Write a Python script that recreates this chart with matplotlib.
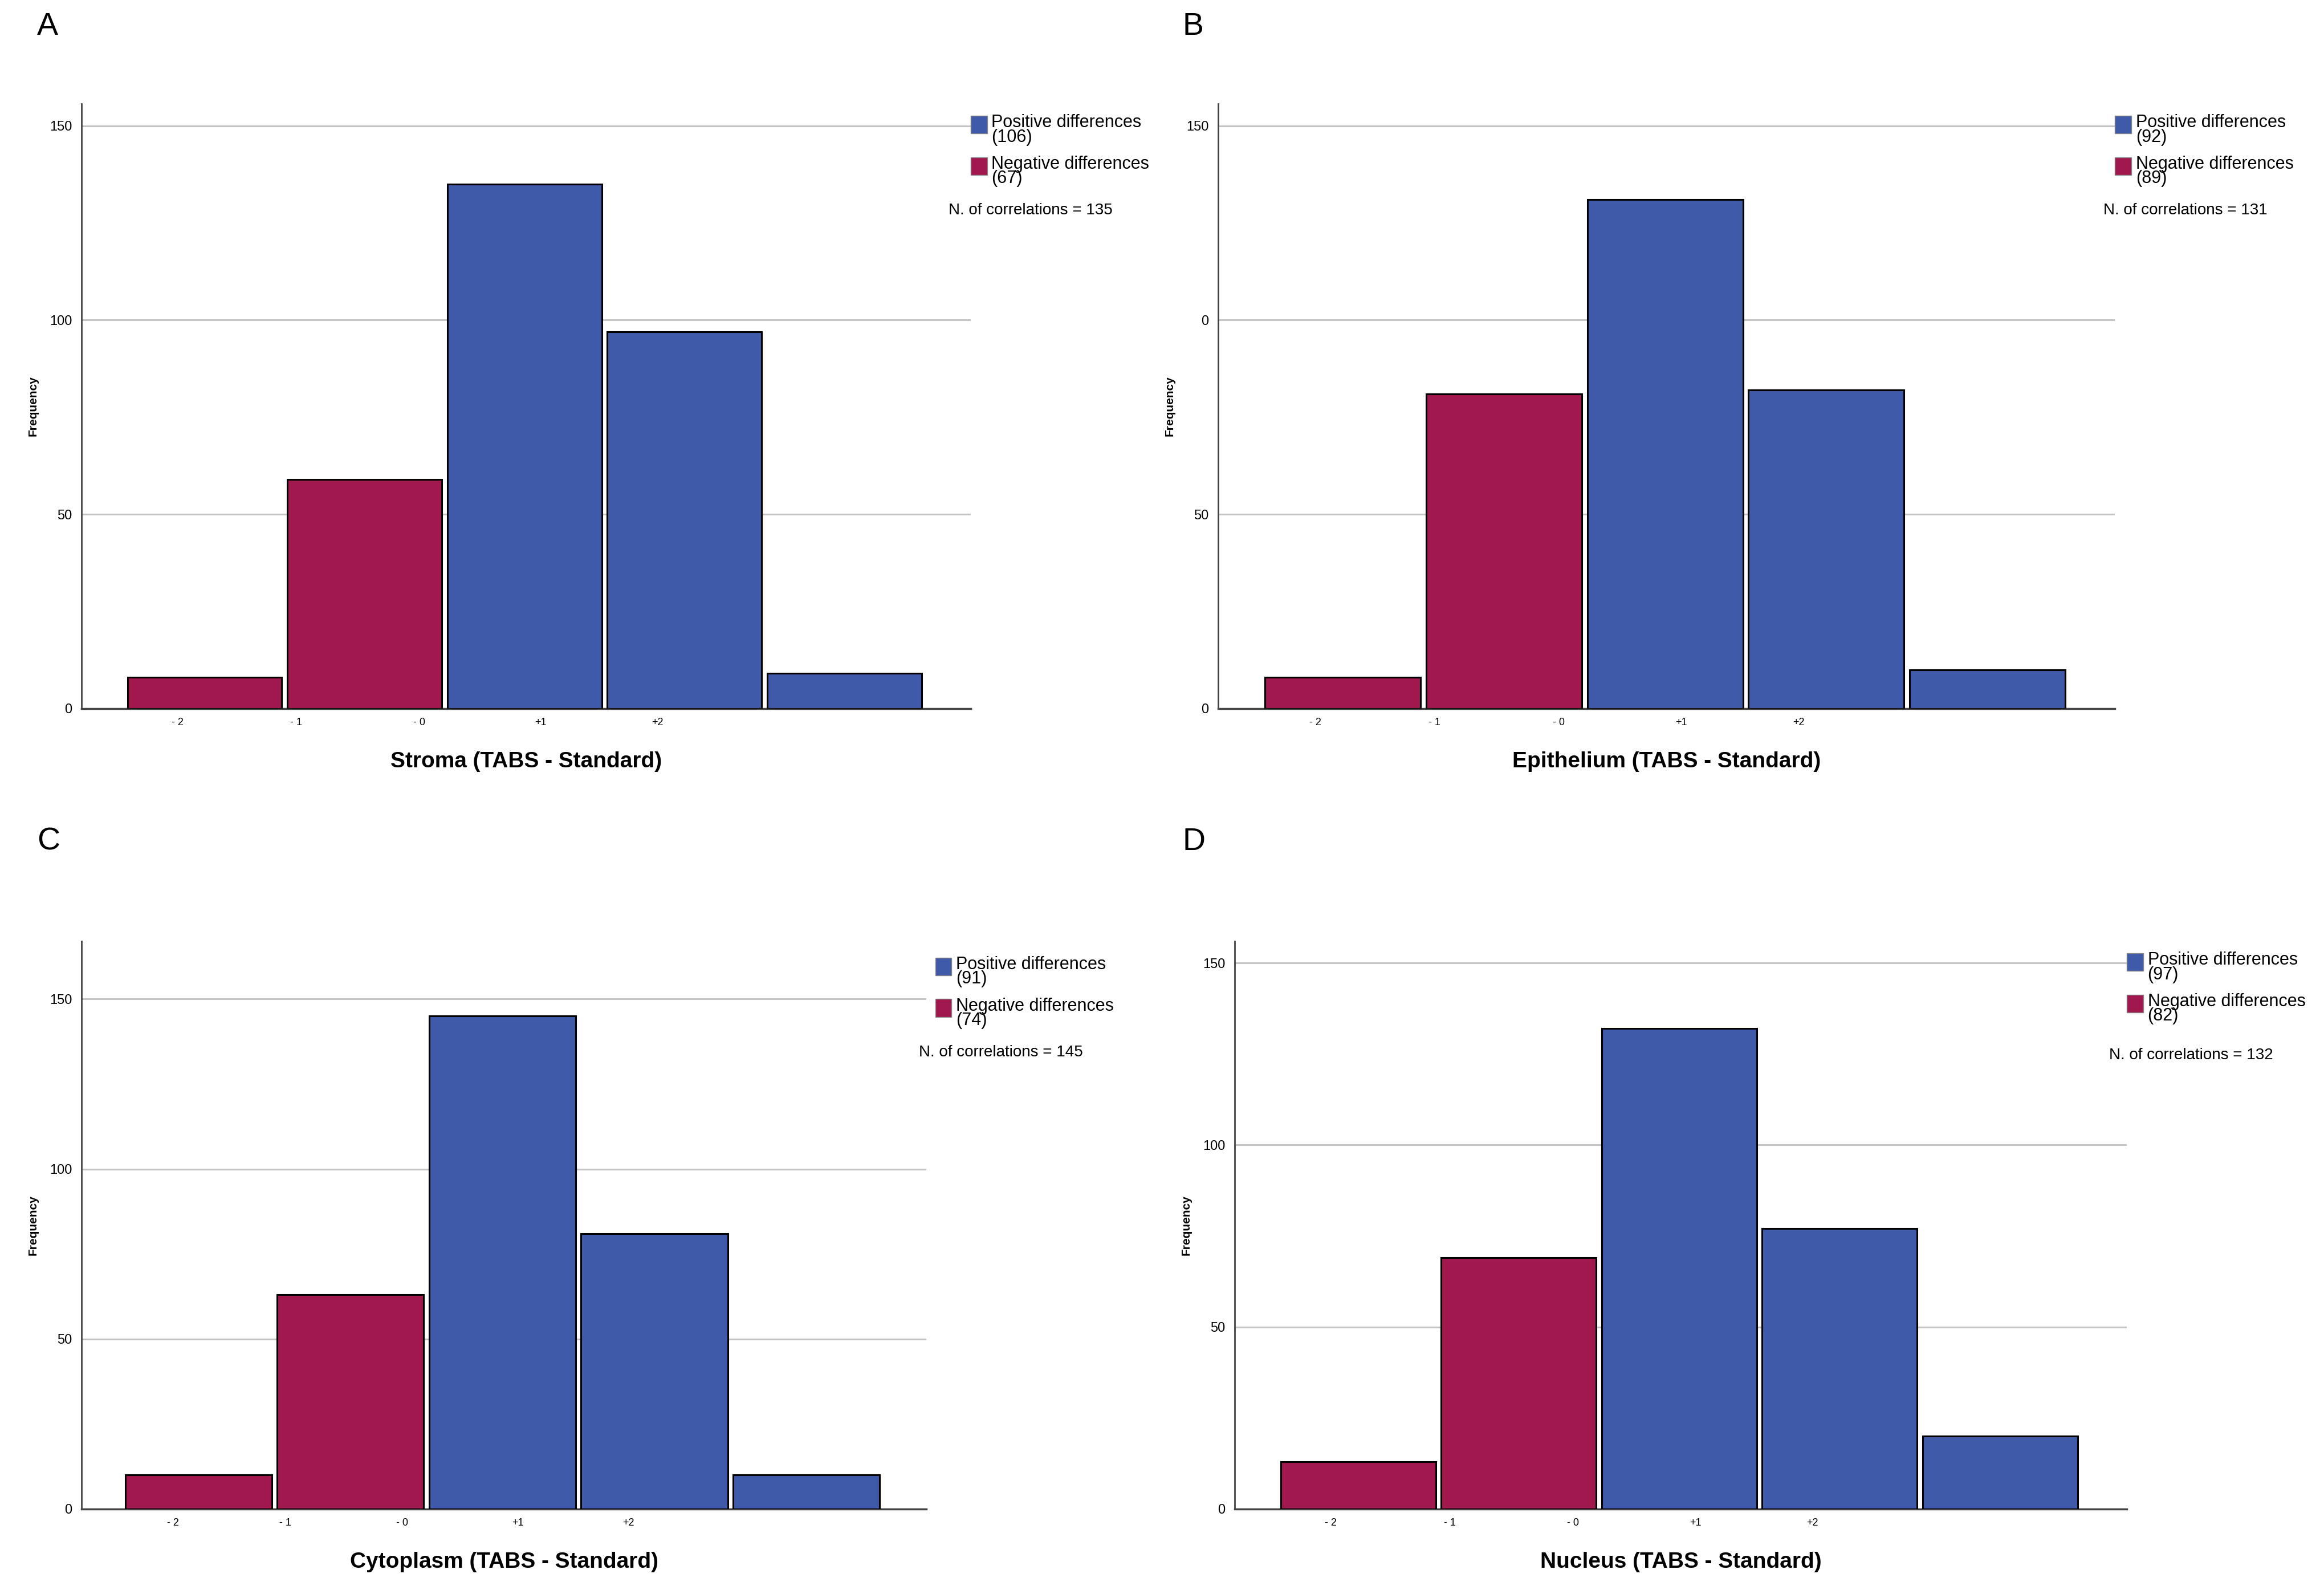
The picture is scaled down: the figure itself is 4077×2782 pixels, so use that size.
import matplotlib
matplotlib.use("Agg")
import matplotlib.pyplot as plt
from matplotlib.patches import Rectangle

plt.rcParams["font.family"] = ["Liberation Sans Narrow", "Liberation Sans", "DejaVu Sans"]

# ── data ────────────────────────────────────────
panels = ["A", "B", "C", "D"]
titles = ["Stroma (TABS - Standard)", "Epithelium (TABS - Standard)",
          "Cytoplasm (TABS - Standard)", "Nucleus (TABS - Standard)"]
freq_a = [8, 59, 135, 97, 9]
freq_b = [8, 81, 131, 82, 10]
freq_c = [10, 63, 145, 81, 10]
freq_d = [13, 69, 132, 77, 20]
pos_n = [106, 92, 91, 97]
neg_n = [67, 89, 74, 82]
n_corr = [135, 131, 145, 132]
ytick_vals = [0, 50, 100, 150]
ytick_labels_ab = ["0", "50", "100", "150"]
ytick_labels_b = ["0", "50", "0", "150"]   # as printed in panel B
xtick_labels = ["- 2", "- 1", "- 0", "+1", "+2"]
bar_is_neg = [True, True, False, False, False]

BLUE = "#3F5AA8"
RED = "#A0184E"

W, H = 1568.0, 1070.0  # reference display units
fig = plt.figure(figsize=(40.77, 27.82), dpi=100, facecolor="white")

def fx(x): return x / W
def fy(y): return 1 - y / H

# axes boxes: left, right, top, bottom (display px), ymax
boxes = [(55, 655, 70, 478, 155.7), (822, 1427, 70, 478, 155.7),
         (55, 625, 635, 1018, 167), (833, 1435, 635, 1018, 156)]
legend_pos = [(655, 669, 84, 112, 640, 142), (1427, 1441, 84, 112, 1419, 142),
              (631, 645, 652, 680, 620, 710), (1435, 1449, 649, 677, 1423, 712)]
letter_pos = [(25, 18), (798, 18), (25, 568), (798, 568)]
all_freq = [freq_a, freq_b, freq_c, freq_d]

for i in range(4):
    l, r, t, b, ymax = boxes[i]
    ax = fig.add_axes([fx(l), fy(b), (r - l) / W, (b - t) / H])
    vals = all_freq[i]
    cols = [RED if n else BLUE for n in bar_is_neg]
    ax.bar(range(5), vals, width=0.965, color=cols, edgecolor="black", lw=2.2, zorder=3)
    ax.set_xlim(-0.77, 4.79)
    ax.set_ylim(0, ymax)
    for v in ytick_vals[1:]:
        ax.axhline(v, color="#c4c4c4", lw=2.2, zorder=1)
    ax.set_yticks(ytick_vals)
    ax.set_yticklabels(ytick_labels_b if i == 1 else ytick_labels_ab, fontsize=17)
    ax.set_xticks([-0.17, 0.57, 1.34, 2.10, 2.83])
    ax.set_xticklabels(xtick_labels, fontsize=13)
    ax.tick_params(length=0, pad=12)
    for s in ["top", "right"]:
        ax.spines[s].set_visible(False)
    ax.spines["left"].set_color("#444444")
    ax.spines["bottom"].set_color("#444444")
    ax.spines["left"].set_linewidth(2)
    ax.spines["bottom"].set_linewidth(2.5)
    ax.set_xlabel(titles[i], fontsize=28, fontweight="bold", labelpad=30,
                  family=["Liberation Sans", "DejaVu Sans"])
    ax.set_ylabel("Frequency", fontsize=15, fontweight="bold", labelpad=14,
                  family=["Liberation Sans", "DejaVu Sans"])

    bx, tx, y1, y2, nx, ny = legend_pos[i]
    for yy, c, lab in [(y1, BLUE, f"Positive differences\n({pos_n[i]})"),
                       (y2, RED, f"Negative differences\n({neg_n[i]})")]:
        fig.patches.append(Rectangle((fx(bx), fy(yy + 6)), 11 / W, 12 / H, facecolor=c,
                                     edgecolor="#888888", lw=1, transform=fig.transFigure))
        fig.text(fx(tx), fy(yy - 7), lab, fontsize=22, va="top", ha="left",
                 linespacing=0.8)
    fig.text(fx(nx), fy(ny), f"N. of correlations = {n_corr[i]}", fontsize=20,
             va="center", ha="left")
    lx, ly = letter_pos[i]
    fig.text(fx(lx), fy(ly), panels[i], fontsize=40, va="center", ha="left",
             family=["Liberation Sans", "DejaVu Sans"])

fig.savefig("out.png", dpi=100, facecolor="white")
